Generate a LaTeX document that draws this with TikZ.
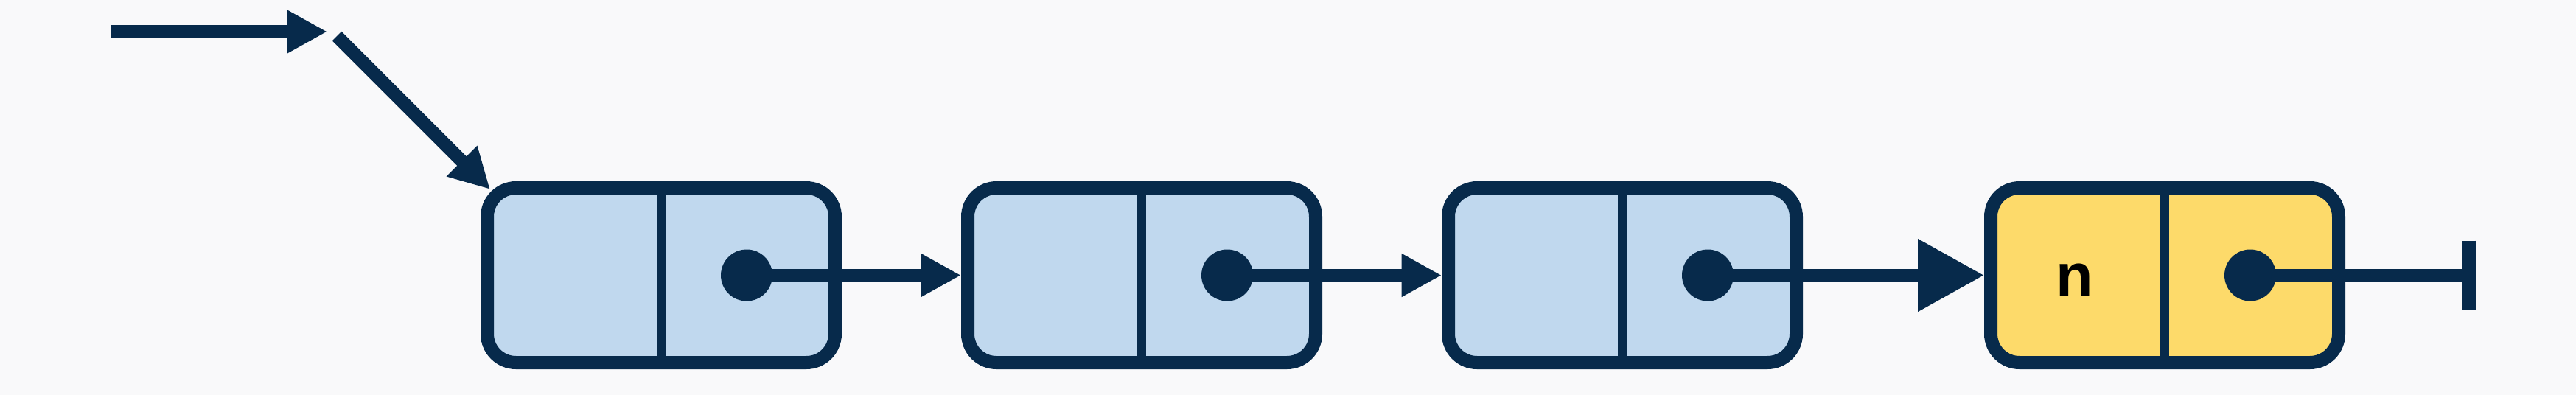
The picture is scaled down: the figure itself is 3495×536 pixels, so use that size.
\documentclass[tikz,border=0pt]{standalone}
\usepackage{fontspec}
\setmainfont{Liberation Sans}
\usetikzlibrary{arrows.meta}
\definecolor{navy}{HTML}{072A4B}
\definecolor{nodeblue}{HTML}{C0D8EE}
\definecolor{nodeyellow}{HTML}{FDDA6A}
\definecolor{bgcol}{HTML}{F9F9FA}
\begin{document}
\begin{tikzpicture}[x=0.25pt,y=-0.25pt,
  listnode/.style={draw=navy, line width=4.5pt, rounded corners=9.75pt, minimum width=118pt, minimum height=59.25pt, inner sep=0pt},
  divider/.style={draw=navy, line width=3pt},
  ptrdot/.style={circle, fill=navy, minimum size=17.5pt, inner sep=0pt},
  link/.style={draw=navy, line width=4.5pt, -{Triangle[length=13.6pt,width=13.75pt]}},
  biglink/.style={draw=navy, line width=4.5pt, -{Triangle[length=22.5pt,width=23.5pt]}},
  nillink/.style={draw=navy, line width=4.5pt, -{Bar[width=23.5pt]}},
  valtext/.style={font=\bfseries\fontsize{20.7pt}{24pt}\selectfont, text=black, inner sep=0pt}
]
\fill[bgcol] (0,0) rectangle (3495,536);
\useasboundingbox (0,0) rectangle (3495,536);

% list nodes
\node[listnode, fill=nodeblue]   (n1) at (897,373.5) {};
\node[listnode, fill=nodeblue]   (n2) at (1549,373.5) {};
\node[listnode, fill=nodeblue]   (n3) at (2201,373.5) {};
\node[listnode, fill=nodeyellow] (n4) at (2937,373.5) {};

% dividers
\foreach \n in {n1,n2,n3,n4} \draw[divider] (\n.north) -- (\n.south);

% pointer dots
\node[ptrdot] (d1) at ([xshift=29pt]n1.center) {};
\node[ptrdot] (d2) at ([xshift=29pt]n2.center) {};
\node[ptrdot] (d3) at ([xshift=29pt]n3.center) {};
\node[ptrdot] (d4) at ([xshift=29pt]n4.center) {};

% value
\node[valtext, anchor=base] (v4) at (2815,402) {n};

% head pointer
\coordinate (hstart) at (150,43);
\coordinate (hend) at (444,43);
\coordinate (dstart) at (457,49);
\coordinate (dend) at (665,257);
\draw[link] (hstart) -- (hend);
\draw[link] (dstart) -- (dend);

% links
\draw[link] (d1.center) -- (n2.west);
\draw[link] (d2.center) -- (n3.west);
\draw[biglink] (d3.center) -- (n4.west);
\coordinate (nil) at (3359,373.5);
\draw[nillink] (d4.center) -- (nil);
\end{tikzpicture}
\end{document}
